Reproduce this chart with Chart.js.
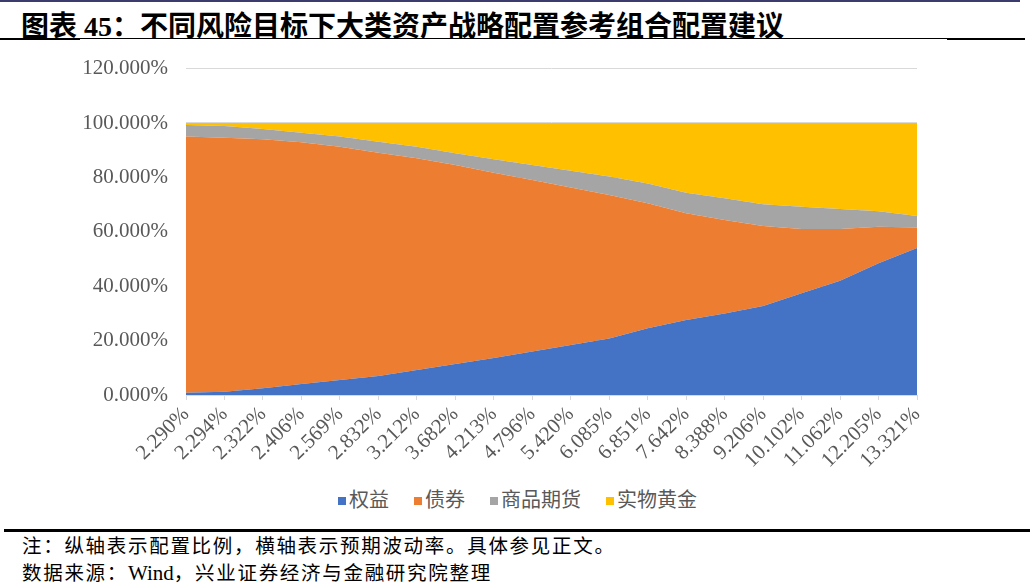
<!DOCTYPE html>
<html lang="zh-CN">
<head>
<meta charset="UTF-8">
<title>不同风险目标下大类资产战略配置参考组合配置建议</title>
<script src="https://cdn.jsdelivr.net/npm/chart.js"></script>
<style>
  body { margin: 0; background: #fff; width: 1033px; height: 588px; position: relative; overflow: hidden; }
  .topbar { position: absolute; left: 0; top: 0; width: 1020px; height: 2px; background: #3b3b6d; }
  .title { position: absolute; left: 21px; top: 4px; font: bold 28px "Liberation Serif", "Noto Sans CJK SC", serif; letter-spacing: 0; color: #000; white-space: nowrap; }
  .title .cn { font-family: "Noto Sans CJK SC", sans-serif; }
  .rule1 { position: absolute; left: 0; top: 38px; width: 1025px; height: 1px; background: #000; }
  .rule1a { position: absolute; left: 0; top: 38px; width: 80px; height: 2px; background: #000; }
  .rule1b { position: absolute; left: 947px; top: 38px; width: 78px; height: 2px; background: #000; }
  #wrap { position: absolute; left: 0; top: 38px; width: 1033px; height: 442px; }
  #legend { position: absolute; left: 338px; top: 484px; font: 20px "Noto Sans CJK SC", sans-serif; color: #595959; white-space: nowrap; }
  #legend span.item { margin-right: 25px; }
  #legend i { display: inline-block; width: 8px; height: 8px; margin-right: 3px; vertical-align: 2px; }
  .rule2 { position: absolute; left: 4px; top: 529px; width: 1026px; height: 3px; background: #000; }
  .note { position: absolute; left: 22px; font: 19.5px "Noto Sans CJK SC", serif; letter-spacing: 1.7px; color: #000; white-space: nowrap; }
  .note .lat { font-family: "Liberation Serif", serif; letter-spacing: 0; font-size: 21px; }
</style>
</head>
<body>
<div class="topbar"></div>
<div class="title"><span class="cn">图表</span> 45<span class="cn">：不同风险目标下大类资产战略配置参考组合配置建议</span></div>
<div class="rule1"></div><div class="rule1a"></div><div class="rule1b"></div>
<div id="wrap"><canvas id="chart" width="1033" height="442"></canvas></div>
<div id="legend"></div>
<div class="rule2"></div>
<div class="note" style="top:530px">注：纵轴表示配置比例，横轴表示预期波动率。具体参见正文。</div>
<div class="note" style="top:557px">数据来源：<span class="lat">Wind</span>，兴业证券经济与金融研究院整理</div>

<script>
// 预期波动率（横轴）
const categories = ['2.290%', '2.294%', '2.322%', '2.406%', '2.569%', '2.832%', '3.212%', '3.682%', '4.213%', '4.796%',
  '5.420%', '6.085%', '6.851%', '7.642%', '8.388%', '9.206%', '10.102%', '11.062%', '12.205%', '13.321%'];

// 配置比例 (%)
const equity    = [0.8, 1.2, 2.5, 4.0, 5.5, 7.0, 9.2, 11.4, 13.6, 16.0, 18.4, 20.8, 24.5, 27.6, 30.0, 32.7, 37.4, 42.0, 48.4, 54.0];
const bonds     = [94.2, 93.4, 91.5, 88.9, 85.8, 82.1, 77.8, 73.2, 68.1, 63.0, 57.9, 52.7, 46.0, 39.2, 34.3, 29.4, 23.6, 19.0, 13.5, 7.6];
const commodity = [4.3, 4.3, 3.8, 3.5, 3.7, 4.0, 4.3, 4.3, 5.0, 5.6, 6.1, 6.8, 7.3, 7.6, 8.0, 8.0, 8.2, 7.4, 5.7, 4.2];
const gold      = [0.7, 1.1, 2.2, 3.6, 5.0, 6.9, 8.7, 11.1, 13.3, 15.4, 17.6, 19.7, 22.2, 25.6, 27.7, 29.9, 30.8, 31.6, 32.4, 34.2];

const yTicks = [0, 20, 40, 60, 80, 100, 120];

const series = [
  { label: '权益', data: equity, color: '#4472C4' },
  { label: '债券', data: bonds, color: '#ED7D31' },
  { label: '商品期货', data: commodity, color: '#A5A5A5' },
  { label: '实物黄金', data: gold, color: '#FFC000' }
];

const tickFont = { family: '"Liberation Serif", "Times New Roman", serif', size: 21 };

new Chart(document.getElementById('chart'), {
  type: 'line',
  data: {
    labels: categories,
    datasets: series.map((s, i) => ({
      label: s.label,
      data: s.data,
      backgroundColor: s.color,
      borderColor: s.color,
      borderWidth: 0,
      pointRadius: 0,
      tension: 0,
      fill: i === 0 ? 'origin' : '-1'
    }))
  },
  options: {
    responsive: false,
    animation: false,
    layout: { padding: { top: 8, right: 116, left: 0, bottom: 0 } },
    plugins: { legend: { display: false }, tooltip: { enabled: false } },
    scales: {
      x: {
        offset: false,
        grid: { drawOnChartArea: false, drawTicks: true, tickLength: 5, color: '#d9d9d9', offset: false },
        border: { color: '#d9d9d9' },
        ticks: { color: '#595959', font: tickFont, minRotation: 45, maxRotation: 45, autoSkip: false, padding: 2 },
        afterFit: s => { s.height = 85; }
      },
      y: {
        stacked: true,
        min: 0,
        max: 120,
        afterBuildTicks: s => { s.ticks = yTicks.map(v => ({ value: v })); },
        grid: { color: '#d9d9d9', drawTicks: false },
        border: { display: false },
        ticks: { color: '#595959', font: tickFont, padding: 18, callback: v => v.toFixed(3) + '%' },
        afterFit: s => { s.width = 186; }
      }
    }
  }
});

// 图例
document.getElementById('legend').innerHTML = series.map(s =>
  '<span class="item"><i style="background:' + s.color + '"></i>' + s.label + '</span>').join('');
</script>
</body>
</html>
